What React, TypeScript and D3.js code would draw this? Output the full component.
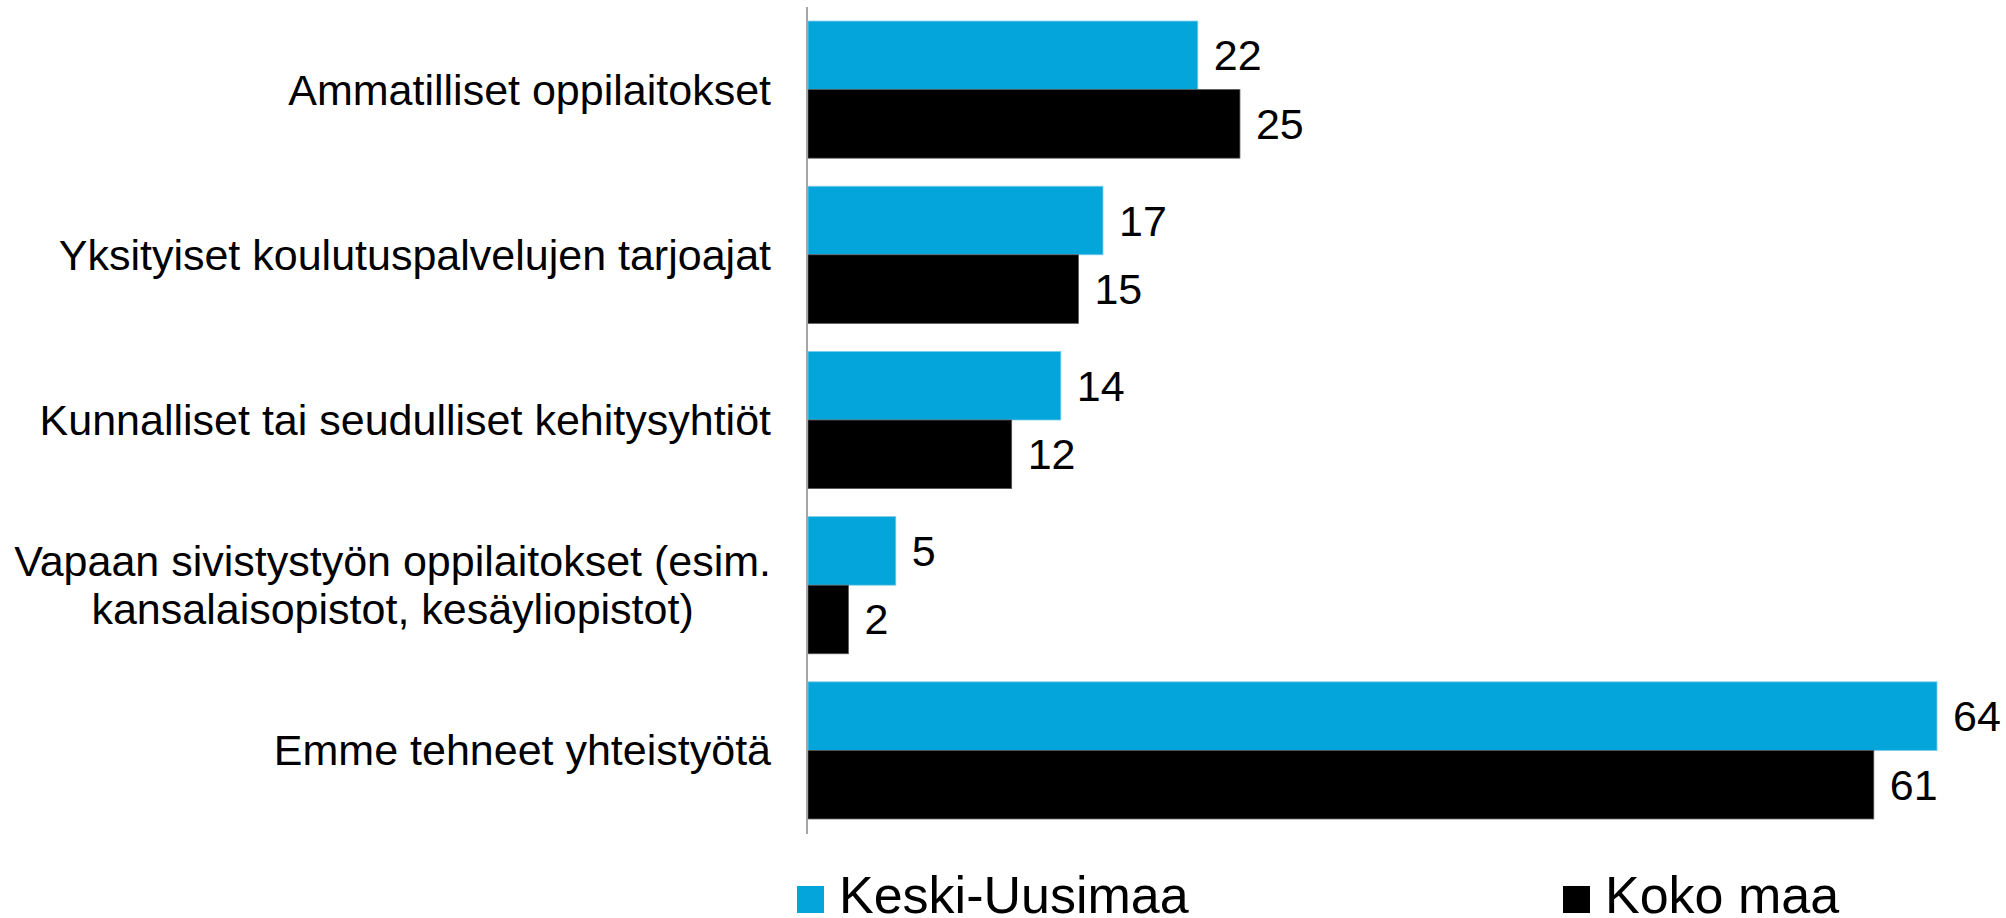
import * as d3 from "d3";

const categories = [
  ["Ammatilliset oppilaitokset"],
  ["Yksityiset koulutuspalvelujen tarjoajat"],
  ["Kunnalliset tai seudulliset kehitysyhtiöt"],
  ["Vapaan sivistystyön oppilaitokset (esim.", "kansalaisopistot, kesäyliopistot)"],
  ["Emme tehneet yhteistyötä"],
];
const seriesNames = ["Keski-Uusimaa", "Koko maa"];
// values; labels show them rounded
const keskiUusimaa = [22.2, 16.8, 14.4, 5.0, 64.3];
const kokoMaa = [24.6, 15.4, 11.6, 2.3, 60.7];
const colors = ["#04a5da", "#000000"];

const FONT = "'Liberation Sans', Arial, sans-serif";

let measureCtx: CanvasRenderingContext2D | null = null;
function textWidth(s: string, size: number) {
  if (!measureCtx) measureCtx = document.createElement("canvas").getContext("2d");
  if (!measureCtx) return s.length * size * 0.5;
  measureCtx.font = `${size}px ${FONT}`;
  return measureCtx.measureText(s).width;
}

export default function App() {
  const width = 2006;
  const height = 918;
  const axisX = 807;
  const labelRight = 771;
  const fs = 43;

  const y = d3
    .scaleBand<number>()
    .domain(d3.range(categories.length))
    .range([7, 833])
    .paddingInner(0.17)
    .paddingOuter(0.085);

  const y2 = d3.scaleBand<number>().domain([0, 1]).range([0, y.bandwidth()]);

  const x = d3.scaleLinear().domain([0, 64.3]).range([axisX + 1, 1937]);
  const fmt = d3.format(".0f");

  const series = [keskiUusimaa, kokoMaa];

  return (
    <div style={{ position: "absolute", left: 0, top: 0 }}>
      <svg width={width} height={height} style={{ display: "block", background: "#fff" }}>
        {categories.map((lines, i) => {
          const cy = (y(i) || 0) + y.bandwidth() / 2;
          const lh = 48;
          const maxW = d3.max(lines, (l) => textWidth(l, fs)) || 0;
          const cx = labelRight - maxW / 2;
          return (
            <text
              key={"lab" + i}
              fontFamily={FONT}
              fontSize={fs}
              fill="#000"
              textAnchor={lines.length > 1 ? "middle" : "end"}
            >
              {lines.map((l, j) => (
                <tspan
                  key={j}
                  x={lines.length > 1 ? cx : labelRight}
                  y={cy + (j - (lines.length - 1) / 2) * lh}
                  dominantBaseline="central"
                >
                  {l}
                </tspan>
              ))}
            </text>
          );
        })}
        {series.map((vals, s) =>
          vals.map((v, i) => {
            const by = (y(i) || 0) + (y2(s) || 0);
            const bh = y2.bandwidth();
            return (
              <g key={`b${s}-${i}`}>
                <rect
                  x={x(0)}
                  y={by}
                  width={x(v) - x(0)}
                  height={bh}
                  fill={colors[s]}
                  stroke={s === 0 ? "#7ccbea" : "#555"}
                  strokeWidth={0.8}
                />
                <text
                  x={x(v) + 16}
                  y={by + bh / 2}
                  dominantBaseline="central"
                  fontFamily={FONT}
                  fontSize={fs}
                  fill="#000"
                >
                  {fmt(v)}
                </text>
              </g>
            );
          })
        )}
        <line x1={axisX} x2={axisX} y1={7} y2={834} stroke="#a6a6a6" strokeWidth={2} />
        {seriesNames.map((name, s) => {
          const lx = s === 0 ? 797 : 1563;
          return (
            <g key={"leg" + s}>
              <rect x={lx} y={886} width={27} height={27} fill={colors[s]} />
              <text x={lx + 42} y={913} fontFamily={FONT} fontSize={52} fill="#000">
                {name}
              </text>
            </g>
          );
        })}
      </svg>
    </div>
  );
}
